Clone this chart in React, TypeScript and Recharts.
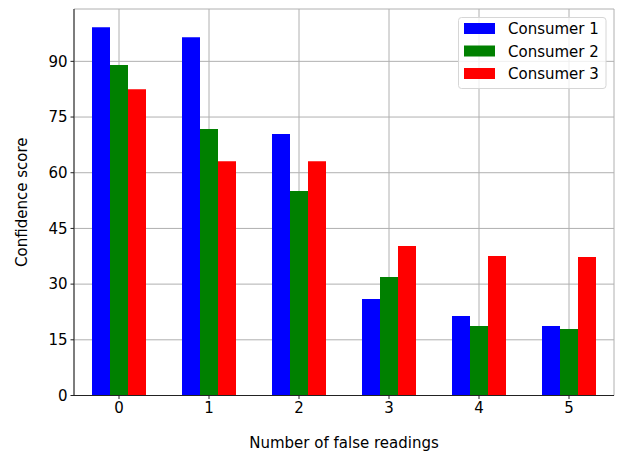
import React from "react";
import { Bar, BarChart, CartesianGrid, XAxis, YAxis } from "recharts";

const readings = ["0", "1", "2", "3", "4", "5"];
const consumer1 = [99.2, 96.5, 70.4, 26.0, 21.4, 18.7];
const consumer2 = [89.0, 71.8, 55.1, 31.9, 18.7, 17.9];
const consumer3 = [82.5, 63.1, 63.1, 40.3, 37.6, 37.3];
const yTicks = [0, 15, 30, 45, 60, 75, 90];

const seriesNames = ["Consumer 1", "Consumer 2", "Consumer 3"];
const seriesColors = ["#0000ff", "#008000", "#ff0000"];

const data = readings.map((r, i) => ({
  reading: r,
  c1: consumer1[i],
  c2: consumer2[i],
  c3: consumer3[i],
}));

const FONT = "'DejaVu Sans', sans-serif";
const FONT_SIZE = 15;
const SPINE = "#222";

// legend drawn as an svg overlay so it doesn't steal plot space
function LegendBox() {
  const rowY = [28.5, 51, 73.5];
  return (
    <svg width={622} height={453} style={{ position: "absolute", left: 0, top: 0, pointerEvents: "none" }}>
      <rect
        x={458.5}
        y={17.5}
        width={147.5}
        height={71}
        rx={3}
        fill="rgba(255,255,255,0.8)"
        stroke="#d6d6d6"
      />
      {seriesNames.map((name, i) => (
        <g key={name}>
          <rect x={464} y={rowY[i] - 5.5} width={31} height={11} fill={seriesColors[i]} />
          <text x={508} y={rowY[i] + 5.5} fontFamily={FONT} fontSize={FONT_SIZE} fill="#000">
            {name}
          </text>
        </g>
      ))}
    </svg>
  );
}

export default function App() {
  return (
    <div style={{ position: "fixed", left: 0, top: 0, width: 622, height: 453, background: "#fff" }}>
      <BarChart
        width={622}
        height={453}
        data={data}
        margin={{ top: 9, right: 8, left: 0, bottom: 0 }}
        barCategoryGap="20%"
        barGap={0}
      >
        {["c1", "c2", "c3"].map((key, i) => (
          <Bar
            key={key}
            dataKey={key}
            name={seriesNames[i]}
            fill={seriesColors[i]}
            isAnimationActive={false}
          />
        ))}
        <CartesianGrid stroke="#b0b0b0" strokeWidth={1} />
        <XAxis
          dataKey="reading"
          height={57.5}
          stroke={SPINE}
          tickSize={3.5}
          tickMargin={3}
          tick={{ fill: "#000", fontSize: FONT_SIZE, fontFamily: FONT }}
          label={{
            value: "Number of false readings",
            position: "insideBottom",
            offset: 5,
            fill: "#000",
            fontSize: FONT_SIZE,
            fontFamily: FONT,
          }}
        />
        <XAxis xAxisId="top" dataKey="reading" orientation="top" height={0} tick={false} tickLine={false} stroke={SPINE} />
        <YAxis
          domain={[0, 104.1]}
          ticks={yTicks}
          width={74}
          stroke={SPINE}
          tickSize={3.5}
          tickMargin={3}
          tick={{ fill: "#000", fontSize: FONT_SIZE, fontFamily: FONT }}
          label={{
            value: "Confidence score",
            angle: -90,
            position: "insideLeft",
            offset: 22,
            style: { textAnchor: "middle" },
            fill: "#000",
            fontSize: FONT_SIZE,
            fontFamily: FONT,
          }}
        />
        <YAxis yAxisId="right" orientation="right" width={0} tick={false} tickLine={false} stroke={SPINE} />
      </BarChart>
      <LegendBox />
    </div>
  );
}
